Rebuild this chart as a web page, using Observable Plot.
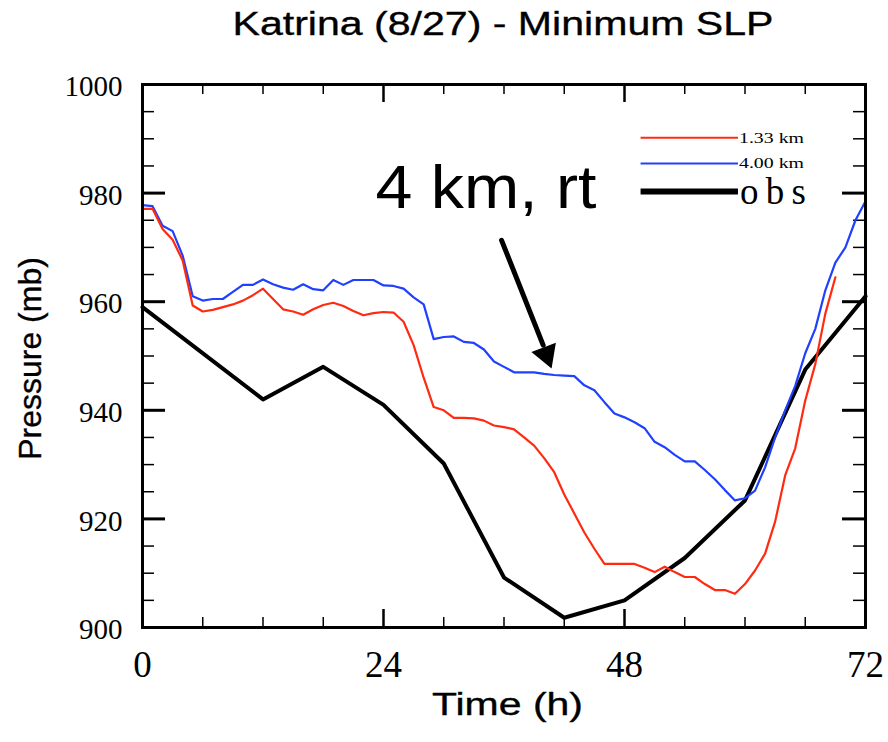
<!DOCTYPE html>
<html><head><meta charset="utf-8">
<script src="https://cdn.jsdelivr.net/npm/d3@7"></script>
<script src="https://cdn.jsdelivr.net/npm/@observablehq/plot@0.6"></script>
<style>body{margin:0;background:#fff}</style>
</head><body><div id="chart"></div>
<script>
const title = "Katrina (8/27) - Minimum SLP";
const xLabel = "Time (h)";
const yLabel = "Pressure (mb)";

// 4.00 km run, hourly from 0 h
const blue4km = [977.8,977.6,974.0,973.0,968.5,961.0,960.2,960.5,960.5,961.8,
  963.1,963.1,964.1,963.2,962.6,962.2,963.2,962.3,962.1,964.0,
  963.1,964.0,964.0,964.0,963.0,962.9,962.4,960.8,959.5,953.1,
  953.5,953.6,952.6,952.4,951.2,949.0,948.0,947.0,947.0,947.0,
  946.7,946.5,946.4,946.3,944.6,943.7,941.5,939.4,938.7,937.8,
  936.7,934.2,933.2,931.8,930.6,930.6,929.0,927.3,925.3,923.4,
  923.8,925.2,929.5,935.0,940.0,944.5,950.5,955.0,962.1,967.2,
  970.0,975.0,978.5];
// 1.33 km run, hourly from 0 h
const red133km = [977.1,977.1,973.4,971.4,967.6,959.3,958.2,958.5,959.0,959.5,
  960.2,961.2,962.4,960.5,958.6,958.2,957.6,958.6,959.4,959.8,
  959.2,958.3,957.5,957.9,958.1,958.0,956.3,952.0,946.0,940.6,
  940.0,938.6,938.6,938.5,938.1,937.2,936.9,936.5,935.0,933.5,
  931.2,928.6,924.5,921.0,917.5,914.5,911.7,911.7,911.7,911.7,
  911.0,910.2,911.2,910.2,909.3,909.3,908.0,906.9,906.9,906.2,
  908.0,910.5,913.6,919.5,928.0,933.0,941.8,948.5,957.8,964.5];
const obsHours = [0,12,18,24,30,36,42,48,54,60,66,72];
const obsP = [959.0,942.0,948.0,941.0,930.2,909.2,901.8,905.0,912.8,923.4,947.5,961.0];

const xTickLabels = [0,24,48,72];
const yTickLabels = [900,920,940,960,980,1000];
const xMinor = [6,12,18,30,36,42,54,60,66];
const yMinor = [905,910,915,925,930,935,945,950,955,965,970,975,985,990,995];

const legendNames = ["1.33 km","4.00 km","obs"];
const legendColors = ["#ff2a10","#1f40ff","#000000"];
const legendWidths = [2,2,6];
const legendP = [990.2,985.45,980.3];
const legendX1 = 49.6, legendX2 = 59.3;

const noteText = "4 km, rt";
const noteAt = {t: 23.2, p: 980.9};
const arrowFrom = {t: 35.76, p: 971.3};
const arrowBase = {t: 39.9, p: 952.0};
const arrowHead = {t: 40.21, p: 950.3};

const W = 888, H = 742, mL = 142, mR = 23, mT = 84, mB = 115;
const fW = W - mL - mR, fH = H - mT - mB;

const redData = red133km.map((p, i) => ({t: i, p}));
const blueData = blue4km.map((p, i) => ({t: i, p}));
const obsData = obsHours.map((t, i) => ({t, p: obsP[i]}));
const legendData = legendNames.map((name, i) => ({name, color: legendColors[i], w: legendWidths[i], p: legendP[i]}));

const serif = "Liberation Serif";
const sans = "Liberation Sans";

const plot = Plot.plot({
  width: W, height: H,
  marginLeft: mL, marginRight: mR, marginTop: mT, marginBottom: mB,
  style: {fontFamily: sans, background: "#fff", color: "#000"},
  x: {domain: [0, 72], axis: null},
  y: {domain: [900, 1000], axis: null},
  marks: [
    // ticks (inward)
    Plot.tickY(yMinor, {y: d => d, insetRight: fW - 12, strokeWidth: 1.5}),
    Plot.tickY(yTickLabels, {y: d => d, insetRight: fW - 23, strokeWidth: 3}),
    Plot.tickY(yMinor, {y: d => d, insetLeft: fW - 12, strokeWidth: 1.5}),
    Plot.tickY(yTickLabels, {y: d => d, insetLeft: fW - 23, strokeWidth: 3}),
    Plot.tickX(xMinor, {x: d => d, insetTop: fH - 10, strokeWidth: 1.5}),
    Plot.tickX(xTickLabels, {x: d => d, insetTop: fH - 18, strokeWidth: 2.5}),
    Plot.tickX(xMinor, {x: d => d, insetBottom: fH - 10, strokeWidth: 1.5}),
    Plot.tickX(xTickLabels, {x: d => d, insetBottom: fH - 18, strokeWidth: 2.5}),
    // data
    Plot.line(obsData, {x: "t", y: "p", stroke: "#000", strokeWidth: 4}),
    Plot.line(blueData, {x: "t", y: "p", stroke: legendColors[1], strokeWidth: 2.2}),
    Plot.line(redData, {x: "t", y: "p", stroke: legendColors[0], strokeWidth: 2.2}),
    // legend
    Plot.link(legendData, {x1: () => legendX1, x2: () => legendX2, y1: "p", y2: "p", stroke: "color", strokeWidth: "w"}),
    Plot.text(legendData.slice(0, 2), {x: () => legendX2, y: "p", text: "name", textAnchor: "start", dx: 1, dy: 0.5, fontFamily: serif, fontSize: 14}),
    Plot.text(legendData.slice(2), {x: () => legendX2, y: "p", text: "name", textAnchor: "start", dx: 2, dy: 1, fontFamily: serif, fontSize: 37}),
    // annotation
    Plot.text([noteAt], {x: "t", y: "p", text: () => noteText, textAnchor: "start", fontSize: 61}),
    Plot.arrow([{}], {x1: () => arrowFrom.t, y1: () => arrowFrom.p, x2: () => arrowBase.t, y2: () => arrowBase.p, headLength: 0, strokeWidth: 5, stroke: "#000"}),
    Plot.dot([arrowHead], {x: "t", y: "p", symbol: "triangle", r: 9.7, fill: "#000", stroke: "none", rotate: 159.5}),
    // frame
    Plot.frame({stroke: "#000", strokeWidth: 3}),
    // tick labels
    Plot.text(yTickLabels, {y: d => d, text: d => String(d), frameAnchor: "left", textAnchor: "end", lineAnchor: "middle", dx: -20, dy: 2.5, fontFamily: serif, fontSize: 29}),
    Plot.text(xTickLabels, {x: d => d, text: d => String(d), frameAnchor: "bottom", lineAnchor: "bottom", dy: 49, fontFamily: serif, fontSize: 37}),
    // titles
    Plot.text([title], {text: d => d, frameAnchor: "top", lineAnchor: "top", dy: -74, dx: -1, fontSize: 34}),
    Plot.text([xLabel], {text: d => d, frameAnchor: "bottom", lineAnchor: "bottom", dy: 87, dx: 3.5, fontSize: 31}),
    Plot.text([yLabel], {text: d => d, frameAnchor: "left", textAnchor: "middle", lineAnchor: "middle", rotate: -90, dx: -112, dy: 2.5, fontSize: 32})
  ]
});
document.getElementById("chart").appendChild(plot);

const stretch = {"Katrina (8/27) - Minimum SLP": [541, "spacingAndGlyphs"], "Time (h)": [151, "spacingAndGlyphs"], "4 km, rt": [221, "spacingAndGlyphs"], "1.33 km": [65, "spacingAndGlyphs"], "4.00 km": [65, "spacingAndGlyphs"], "obs": [66, "spacing"]};
const heavy = new Set([title, xLabel, yLabel]);
d3.select(plot).selectAll("text").each(function() {
  const s = stretch[this.textContent];
  if (s) d3.select(this).attr("textLength", s[0]).attr("lengthAdjust", s[1]);
  if (heavy.has(this.textContent)) d3.select(this).attr("stroke", "#000").attr("stroke-width", 0.35);
});
</script>
</body></html>
